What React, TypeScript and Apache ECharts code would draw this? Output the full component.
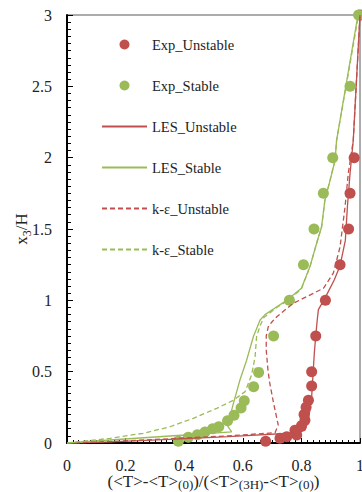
import React, { useEffect, useRef } from "react";
import * as echarts from "echarts";

// ---- data ----
const expUnstableX = [0.678, 0.727, 0.75, 0.784, 0.778, 0.8, 0.812, 0.809, 0.816, 0.824, 0.835, 0.835, 0.849, 0.882, 0.932, 0.961, 0.966, 0.98, 1.0];
const expUnstableY = [0.012, 0.033, 0.044, 0.056, 0.09, 0.12, 0.16, 0.2, 0.25, 0.3, 0.4, 0.5, 0.75, 1.0, 1.25, 1.5, 1.75, 2.0, 3.0];

const expStableX = [0.38, 0.414, 0.445, 0.471, 0.497, 0.518, 0.548, 0.57, 0.594, 0.605, 0.637, 0.654, 0.705, 0.759, 0.807, 0.843, 0.875, 0.907, 0.966, 0.995];
const expStableY = [0.012, 0.04, 0.058, 0.077, 0.1, 0.114, 0.156, 0.194, 0.245, 0.296, 0.395, 0.495, 0.75, 1.0, 1.25, 1.5, 1.75, 2.0, 2.5, 3.0];

const lesUnstableX = [0, 0.15, 0.35, 0.55, 0.79, 0.812, 0.824, 0.835, 0.84, 0.844, 0.849, 0.854, 0.858, 0.88, 0.912, 0.932, 0.95, 0.957, 0.966, 0.977, 1.0];
const lesUnstableY = [0, 0.008, 0.026, 0.045, 0.072, 0.09, 0.16, 0.325, 0.49, 0.628, 0.75, 0.862, 0.935, 1.014, 1.142, 1.243, 1.42, 1.656, 1.89, 2.12, 3.0];

const lesStableX = [0, 0.147, 0.352, 0.562, 0.548, 0.557, 0.568, 0.59, 0.613, 0.636, 0.659, 0.676, 0.716, 0.75, 0.8, 0.829, 0.852, 0.869, 0.88, 0.898, 0.915, 0.92, 0.993];
const lesStableY = [0, 0.021, 0.049, 0.078, 0.12, 0.19, 0.278, 0.44, 0.58, 0.745, 0.862, 0.9, 0.955, 1.0, 1.084, 1.235, 1.4, 1.516, 1.7, 1.843, 1.983, 2.12, 3.0];

const keUnstableX = [0, 0.15, 0.35, 0.55, 0.71, 0.721, 0.705, 0.692, 0.686, 0.68, 0.68, 0.687, 0.7, 0.716, 0.772, 0.875, 0.909, 0.932, 0.949, 0.96, 0.977, 1.0];
const keUnstableY = [0, 0.01, 0.03, 0.05, 0.072, 0.126, 0.28, 0.42, 0.51, 0.65, 0.75, 0.815, 0.85, 0.885, 0.979, 1.084, 1.19, 1.376, 1.656, 1.89, 2.12, 3.0];

const keStableX = [0, 0.147, 0.26, 0.352, 0.431, 0.511, 0.568, 0.608, 0.63, 0.642, 0.647, 0.66, 0.672, 0.716, 0.755, 0.8, 0.829, 0.852, 0.869, 0.88, 0.898, 0.915, 0.92, 0.995];
const keStableY = [0, 0.033, 0.068, 0.114, 0.173, 0.243, 0.3, 0.36, 0.477, 0.605, 0.745, 0.827, 0.88, 0.95, 1.0, 1.08, 1.235, 1.4, 1.516, 1.7, 1.843, 1.983, 2.12, 3.0];

const seriesNames = ["Exp_Unstable", "Exp_Stable", "LES_Unstable", "LES_Stable", "k-ε_Unstable", "k-ε_Stable"];
const xTickInterval = 0.2;
const yTickInterval = 0.5;

const RED = "#C0504D";
const GREEN = "#9BBB59";
const FONT = "Liberation Serif";

const zip = (xs: number[], ys: number[]) => xs.map((x, i) => [x, ys[i]]);

export default function App() {
  const ref = useRef<HTMLDivElement>(null);
  useEffect(() => {
    if (!ref.current) return;
    const chart = echarts.init(ref.current, undefined, { renderer: "svg" });
    const lineSeries = (name: string, data: number[][], color: string, dashed: boolean) => ({
      name,
      type: "line",
      data,
      symbol: "none",
      smooth: false,
      clip: false,
      lineStyle: { color, width: 1.3, type: dashed ? [5, 3] : "solid" },
      itemStyle: { color },
    });
    chart.setOption({
      animation: false,
      grid: {
        left: 67,
        right: 2,
        top: 15,
        bottom: 49,
        show: true,
        borderColor: "#595959",
        borderWidth: 1,
        containLabel: false,
        outerBoundsMode: "none",
      },
      legend: {
        data: seriesNames.map((n, i) => (i < 2 ? { name: n } : { name: n, itemStyle: { opacity: 0 } })),
        orient: "vertical",
        left: 101,
        top: 37,
        padding: 0,
        itemWidth: 45,
        itemHeight: 10,
        itemGap: 26,
        textStyle: { fontFamily: FONT, fontSize: 14.5, color: "#222" },
      },
      xAxis: {
        type: "value",
        min: 0,
        max: 1,
        interval: xTickInterval,
        axisLine: { lineStyle: { color: "#000", width: 2 } },
        axisTick: { inside: true, length: 5, lineStyle: { color: "#000" } },
        minorTick: { show: true, splitNumber: 10, length: 3, lineStyle: { color: "#000" } },
        splitLine: { show: false },
        axisLabel: { fontFamily: FONT, fontSize: 16, color: "#222", margin: 14 },
        name: "(<T>-<T>{sub|(0)})/(<T>{sub|(3H)}-<T>{sub|(0)})",
        nameLocation: "middle",
        nameGap: 29,
        nameMoveOverlap: false,
        nameTextStyle: {
          fontFamily: FONT,
          fontSize: 17,
          color: "#222",
          lineHeight: 19,
          rich: {
            sub: { fontFamily: FONT, fontSize: 13, color: "#222", lineHeight: 12, verticalAlign: "bottom" },
          },
        },
      },
      yAxis: {
        type: "value",
        min: 0,
        max: 3,
        interval: yTickInterval,
        axisLine: { lineStyle: { color: "#000", width: 2 } },
        axisTick: { inside: true, length: 6, lineStyle: { color: "#000" } },
        minorTick: { show: true, splitNumber: 10, length: 4, lineStyle: { color: "#000" } },
        splitLine: { show: false },
        axisLabel: { fontFamily: FONT, fontSize: 16, color: "#222", margin: 15 },
        name: "x{sub|3}/H",
        nameLocation: "middle",
        nameGap: 34,
        nameMoveOverlap: false,
        nameTextStyle: {
          fontFamily: FONT,
          fontSize: 17,
          color: "#222",
          lineHeight: 24,
          rich: {
            sub: { fontFamily: FONT, fontSize: 12, color: "#222", lineHeight: 12, verticalAlign: "bottom" },
          },
        },
      },
      series: [
        {
          name: seriesNames[0],
          type: "scatter",
          data: zip(expUnstableX, expUnstableY),
          symbol: "circle",
          symbolSize: 11,
          clip: false,
          itemStyle: { color: RED, opacity: 1 },
        },
        {
          name: seriesNames[1],
          type: "scatter",
          data: zip(expStableX, expStableY),
          symbol: "circle",
          symbolSize: 11,
          clip: false,
          itemStyle: { color: GREEN, opacity: 1 },
        },
        lineSeries(seriesNames[2], zip(lesUnstableX, lesUnstableY), RED, false),
        lineSeries(seriesNames[3], zip(lesStableX, lesStableY), GREEN, false),
        lineSeries(seriesNames[4], zip(keUnstableX, keUnstableY), RED, true),
        lineSeries(seriesNames[5], zip(keStableX, keStableY), GREEN, true),
      ],
    });
    return () => chart.dispose();
  }, []);
  return (
    <div
      ref={ref}
      style={{ position: "fixed", left: 0, top: 0, width: 362, height: 492, background: "#fff" }}
    />
  );
}
